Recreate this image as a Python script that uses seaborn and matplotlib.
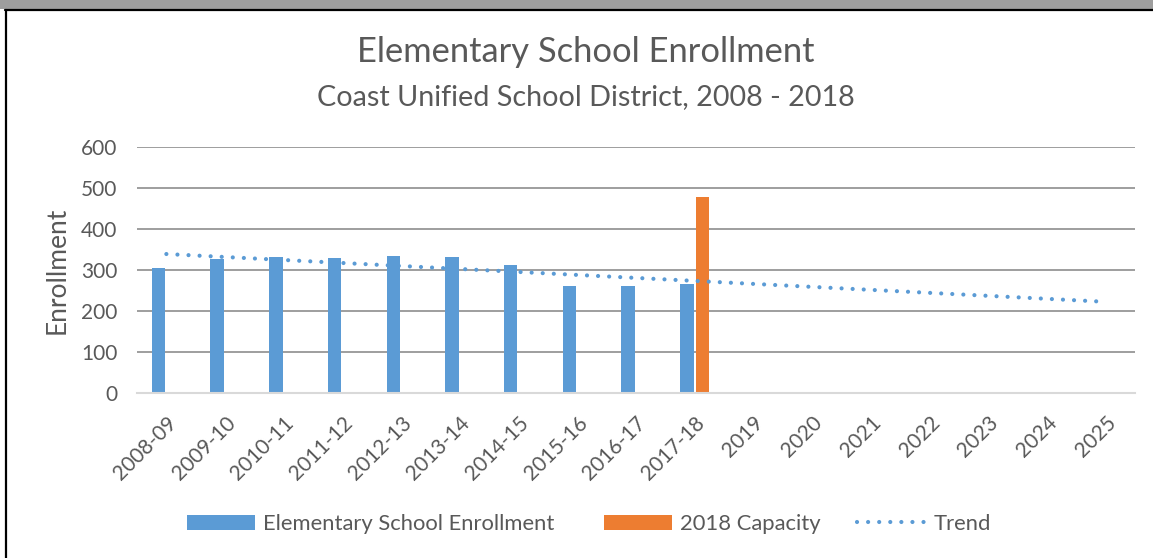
import numpy as np
import pandas as pd
import matplotlib
matplotlib.use("Agg")
import matplotlib.pyplot as plt
from matplotlib.patches import Patch, Rectangle
from matplotlib.lines import Line2D
import seaborn as sns

# School years / projection years on the category axis
categories = ["2008-09", "2009-10", "2010-11", "2011-12", "2012-13", "2013-14",
              "2014-15", "2015-16", "2016-17", "2017-18",
              "2019", "2020", "2021", "2022", "2023", "2024", "2025"]
enrollment_years = categories[:10]
enrollment = [306, 326, 332, 329, 334, 332, 312, 262, 262, 267]
capacity_year = ["2017-18"]
capacity = [478]

ENROLL_LABEL = "Elementary School Enrollment"
CAP_LABEL = "2018 Capacity"
TREND_LABEL = "Trend"
BLUE = "#5B9BD5"
ORANGE = "#ED7D31"
TEXT = "#595959"
DOTS = (0, (0.01, 2.65))

sns.set_theme(style="white")
plt.rcParams["font.family"] = ["Lato", "DejaVu Sans"]

df = pd.concat([
    pd.DataFrame({"year": enrollment_years, "value": enrollment, "series": ENROLL_LABEL}),
    pd.DataFrame({"year": capacity_year, "value": capacity, "series": CAP_LABEL}),
], ignore_index=True)

W, H = 1153, 558
fig = plt.figure(figsize=(W / 100, H / 100), dpi=100)
ax = fig.add_axes([137 / W, 1 - 393 / H, (1135 - 137) / W, (393 - 147) / H])

sns.barplot(data=df, x="year", y="value", hue="series", order=categories,
            hue_order=[ENROLL_LABEL, CAP_LABEL],
            palette={ENROLL_LABEL: BLUE, CAP_LABEL: ORANGE},
            dodge=True, width=0.54, gap=0.15, saturation=1, errorbar=None,
            linewidth=0, legend=False, ax=ax, zorder=3)

# Linear trend fitted to the enrollment years, extended through 2025
xi = np.arange(1, len(enrollment) + 1)
slope, intercept = np.polyfit(xi, enrollment, 1)
xt = np.arange(1, len(categories) + 1)
trend = slope * xt + intercept
ax.plot(xt - 1, trend, color=BLUE, lw=3.0, linestyle=DOTS,
        dash_capstyle="round", zorder=4)

ax.set_xlim(-0.5, len(categories) - 0.5)
ax.set_ylim(0, 600)
ax.set_yticks(range(0, 601, 100))
ax.yaxis.grid(True, color="#848484", lw=1.1, zorder=0)
ax.set_axisbelow(True)
for s in ["top", "right", "left"]:
    ax.spines[s].set_visible(False)
ax.spines["bottom"].set_color("#D9D9D9")
ax.spines["bottom"].set_linewidth(1.5)
ax.spines["bottom"].set_zorder(5)
ax.tick_params(axis="both", length=0, colors=TEXT, labelsize=15)
ax.tick_params(axis="y", pad=14)
ax.tick_params(axis="x", pad=14)
plt.setp(ax.get_xticklabels(), rotation=45, ha="right", rotation_mode="anchor")
ax.set_xlabel("")
ax.set_ylabel("Enrollment", color=TEXT, fontsize=19, labelpad=8)

fig.text(585.5 / W, 1 - 52 / H, "Elementary School Enrollment", ha="center", va="center",
         fontsize=24.8, color=TEXT)
fig.text(585.5 / W, 1 - 97 / H, "Coast Unified School District, 2008 - 2018", ha="center",
         va="center", fontsize=20.7, color=TEXT)

# Legend entries laid out along the bottom of the figure
entries = [
    (Patch(facecolor=BLUE, edgecolor="none", label=ENROLL_LABEL), 187),
    (Patch(facecolor=ORANGE, edgecolor="none", label=CAP_LABEL), 604),
    (Line2D([], [], color=BLUE, lw=3.0, linestyle=DOTS, dash_capstyle="round",
            label=TREND_LABEL), 857),
]
for handle, x0 in entries:
    leg = fig.legend(handles=[handle], loc="center left", bbox_to_anchor=(x0 / W, 1 - 524 / H),
                     frameon=False, fontsize=15.8, handlelength=3.1, handleheight=0.7,
                     handletextpad=0.37, borderpad=0, borderaxespad=0, labelcolor=TEXT)

# Window frame: grey strip along the top, black border lines
fig.patches.append(Rectangle((0, 1 - 9 / H), 1, 9 / H, transform=fig.transFigure,
                             facecolor="#9E9E9E", edgecolor="none", zorder=0))
fig.lines.append(Line2D([5 / W, 1], [1 - 10 / H] * 2, transform=fig.transFigure,
                        color="black", lw=1.6))
fig.lines.append(Line2D([5.5 / W] * 2, [0, 1 - 10 / H], transform=fig.transFigure,
                        color="black", lw=1.6))

fig.savefig("out.png", dpi=100, facecolor="white")
